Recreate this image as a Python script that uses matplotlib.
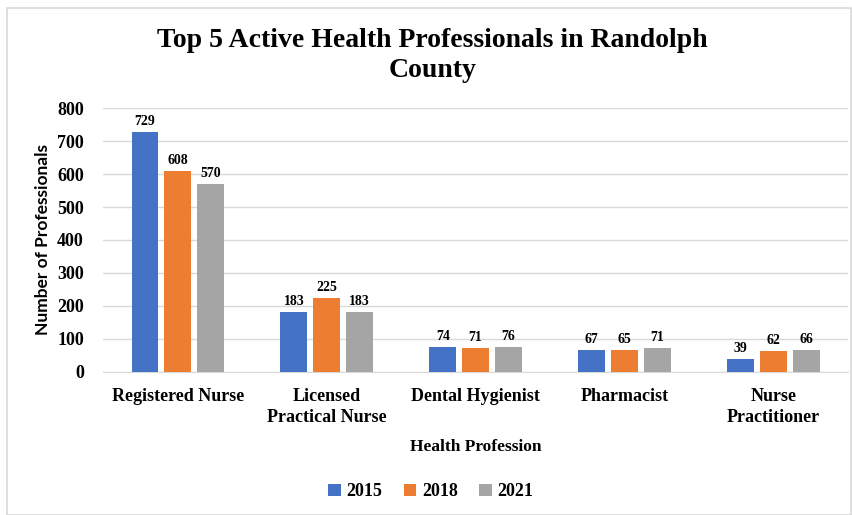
import numpy as np
import matplotlib.pyplot as plt
from matplotlib.patches import Rectangle

categories = ["Registered Nurse", "Licensed\nPractical Nurse", "Dental Hygienist",
              "Pharmacist", "Nurse\nPractitioner"]
years = ["2015", "2018", "2021"]
v2015 = [729, 183, 74, 67, 39]
v2018 = [608, 225, 71, 65, 62]
v2021 = [570, 183, 76, 71, 66]
colors = ["#4472C4", "#ED7D31", "#A5A5A5"]

serif = "Liberation Serif"

fig = plt.figure(figsize=(8.53, 5.15), dpi=100)
fig.patches.append(Rectangle((0.008, 0.0), 0.99, 0.985, transform=fig.transFigure,
                             fill=False, edgecolor="#d9d9d9", linewidth=1.2))
ax = fig.add_axes([0.121, 0.278, 0.873, 0.512])

x = np.arange(len(categories))
w = 0.18
for i, (vals, col) in enumerate(zip([v2015, v2018, v2021], colors)):
    bars = ax.bar(x + (i - 1) * 0.22, vals, w, color=col, label=years[i], zorder=3)
    for b, v in zip(bars, vals):
        ax.text(b.get_x() + b.get_width() / 2, v + 12, str(v), ha="center", va="bottom",
                fontsize=10, fontweight="bold", family=serif)

ax.set_ylim(0, 800)
ax.set_xlim(-0.5, 4.5)
ax.set_yticks(range(0, 801, 100))
ax.yaxis.grid(True, color="#d9d9d9", linewidth=1, zorder=0)
ax.tick_params(length=0)
for s in ["top", "right", "left"]:
    ax.spines[s].set_visible(False)
ax.spines["bottom"].set_color("#d9d9d9")
ax.set_xticks(x)
ax.set_xticklabels(categories, fontsize=13, fontweight="bold", family=serif, linespacing=1.3)
for lab in ax.get_yticklabels():
    lab.set_fontsize(13)
    lab.set_fontweight("bold")
    lab.set_family(serif)
ax.tick_params(axis="y", pad=14)
ax.tick_params(axis="x", pad=12)

ax.set_ylabel("Number of Professionals", fontsize=12.5, fontweight="bold", family="Lato", labelpad=4)
ax.set_xlabel("Health Profession", fontsize=12.5, fontweight="bold", family=serif, labelpad=9)

fig.text(0.507, 0.892, "Top 5 Active Health Professionals in Randolph\nCounty",
         ha="center", va="center", fontsize=20, fontweight="bold", family=serif, linespacing=1.3)

fig.legend(loc="center", bbox_to_anchor=(0.505, 0.045), ncol=3, frameon=False,
           prop={"family": serif, "weight": "bold", "size": 13},
           handlelength=0.7, handleheight=0.7, handletextpad=0.3, columnspacing=1.2)

fig.savefig("out.png", dpi=100)
